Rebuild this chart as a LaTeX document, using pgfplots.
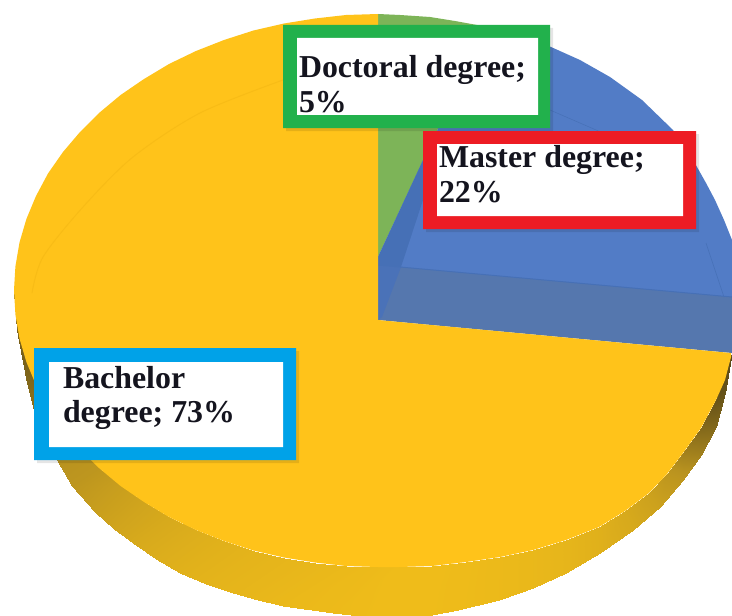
\documentclass[border=0pt]{standalone}
\usepackage{pgfplots}
\pgfplotsset{compat=1.18}
\usepackage{fontspec}
\setmainfont{Liberation Serif}
\definecolor{yel}{HTML}{FFC31A}
\definecolor{yelring}{HTML}{F8BC16}
\definecolor{grn}{HTML}{7DB458}
\definecolor{blu}{HTML}{527CC6}
\definecolor{bluF}{HTML}{5577AE}
\definecolor{bluS}{HTML}{4670B6}
\definecolor{bluL}{HTML}{4A72B8}
\definecolor{bxG}{HTML}{22B14C}
\definecolor{bxR}{HTML}{ED1C24}
\definecolor{bxB}{HTML}{00A2E8}
\definecolor{txt}{HTML}{14141E}
\newcommand{\lab}[1]{{\fontsize{32}{32}\selectfont\bfseries\color{txt}#1}}
\tikzset{lb/.style={anchor=base west, inner sep=0pt, outer sep=0pt}}
\begin{document}
\begin{tikzpicture}
\fill[white] (0,0) rectangle (732bp,616bp);
\begin{axis}[
  at={(0,0)}, anchor=south west,
  hide axis, scale only axis, width=732bp, height=616bp,
  xmin=0, xmax=732, ymin=0, ymax=616, y dir=reverse,
  colormap={side}{rgb255(0cm)=(77,63,23) rgb255(1cm)=(184,146,31) rgb255(2cm)=(239,188,26)},
  point meta min=0, point meta max=1,
]
% side wall of the yellow slice: a strip of quads, inner rim to outer rim
\addplot[patch, patch type=rectangle, shader=interp, point meta=explicit] table[x=x,y=y,meta=c] {
x y c
14 290 0.2
14 292 0.2
17 330 0.2
17 325 0.2
17 325 0.2
17 330 0.2
22 357 0.2
24 352 0.2
24 352 0.2
22 357 0.2
27 383 0.25
36 385 0.25
36 385 0.25
27 383 0.25
33 407 0.3
48 407.5 0.3
48 407.5 0.3
33 407 0.3
44 435 0.4
63 429 0.4
63 429 0.4
44 435 0.4
57 460 0.5
80 449 0.5
80 449 0.5
57 460 0.5
72 486 0.55
99 468 0.55
99 468 0.55
72 486 0.55
95 512 0.65
120.6 486 0.65
120.6 486 0.65
95 512 0.65
114 529 0.72
144 502 0.72
144 502 0.72
114 529 0.72
133 543 0.78
169 517 0.78
169 517 0.78
133 543 0.78
156 559 0.83
196 530 0.83
196 530 0.83
156 559 0.83
180 573 0.87
224 541 0.87
224 541 0.87
180 573 0.87
206 584 0.9
253.5 550.5 0.9
253.5 550.5 0.9
206 584 0.9
233 593 0.92
284 557.5 0.92
284 557.5 0.92
233 593 0.92
258 600 0.94
315 562.5 0.94
315 562.5 0.94
258 600 0.94
283 606 0.96
346 566 0.96
346 566 0.96
283 606 0.96
333 613 0.98
378 567 0.98
378 567 0.98
333 613 0.98
378 618 1
399 567 1
399 567 1
378 618 1
416 618 1
432 566 1
432 566 1
416 618 1
458 610 0.99
466 562 0.99
466 562 0.99
458 610 0.99
499 600 0.97
500 557 0.97
500 557 0.97
499 600 0.97
533 588 0.95
533 550 0.95
533 550 0.95
533 588 0.95
566 573 0.92
566 540 0.92
566 540 0.92
566 573 0.92
600 553 0.86
599 527 0.86
599 527 0.86
600 553 0.86
633 530 0.78
625 511 0.78
625 511 0.78
633 530 0.78
660 507 0.68
649 493 0.68
649 493 0.68
660 507 0.68
683 480 0.55
667 474 0.55
667 474 0.55
683 480 0.55
701 455 0.4
683 453 0.4
683 453 0.4
701 455 0.4
716 427 0.25
701 428 0.25
701 428 0.25
716 427 0.25
725 393 0.12
716 400 0.12
716 400 0.12
725 393 0.12
731 357 0.05
731 355 0.05
};
% green slice
\addplot[fill=grn, draw=none] coordinates {(378,14) (400,15) (430,17) (455,21) (477,25) (486,26) (378,257) (378,14)};
% blue slice, top
\addplot[fill=blu, draw=none] coordinates {(378,265) (378,257) (486,26) (520,36) (551,47) (580,60) (610,77) (642,100) (673,130) (686,148) (697,167) (706,183) (715,200) (724,220) (732,240) (732,297) (378,265)};
% blue slice, front wall
\addplot[fill=bluF, draw=none] coordinates {(378,265) (732,297) (732,353) (378,320) (378,265)};
\addplot[fill=bluS, draw=none] coordinates {(378,265) (378,257) (423,160) (423,200) (401,267) (378,265)};
\addplot[fill=bluL, draw=none] coordinates {(378,265) (401,267) (382,317) (378,320) (378,265)};
\addplot[bluS, line width=1pt] coordinates {(378,265) (732,297)};
\addplot[bluS, line width=0.5pt] coordinates {(550,110) (603,133) (640,160)};
\addplot[bluS, line width=0.5pt] coordinates {(706,243) (724,297)};
% yellow slice, top
\addplot[fill=yel, draw=none] coordinates {
(378,320) (731,353) (731,357) (725,380) (716,400) (701,428) (683,453) (667,474) (649,493) (625,511) (599,527) (566,540) (533,550) (500,557) (466,562) (432,566) (399,567)
(378,567) (346,566) (315,562.5) (284,557.5) (253.5,550.5) (224,541) (196,530) (169,517) (144,502) (120.6,486) (99,468) (80,449) (63,429) (48,407.5) (36,385) (26.4,362) (19.5,338.5) (15.4,314.5) (14,290)
(15.4,266.5) (19.5,242.5) (26.4,219) (36,196) (48,173.5) (63,152) (80,132) (99,113) (120.6,95) (144,79) (169,64) (196,51) (224,40) (253.5,30.5) (284,23.5) (315,18.5) (346,15) (378,14) (378,320)};
\addplot[yelring, line width=1pt, smooth] coordinates {(32,293) (43,257) (83,207) (133,157) (200,113) (283,80)};
% soft shadows of the boxes
\addplot[fill=black, fill opacity=0.1, draw=none] coordinates {(286,28) (553,28) (553,131) (286,131) (286,28)};
\addplot[fill=black, fill opacity=0.1, draw=none] coordinates {(426,134) (699,134) (699,232) (426,232) (426,134)};
\addplot[fill=black, fill opacity=0.1, draw=none] coordinates {(37,351) (299,351) (299,463) (37,463) (37,351)};
% label boxes
\addplot[fill=bxG, draw=none] coordinates {(283,25) (550,25) (550,128) (283,128) (283,25)};
\addplot[fill=white, draw=none] coordinates {(297,38) (538,38) (538,115) (297,115) (297,38)};
\addplot[fill=bxR, draw=none] coordinates {(423,131) (696,131) (696,229) (423,229) (423,131)};
\addplot[fill=white, draw=none] coordinates {(437,144) (683,144) (683,216) (437,216) (437,144)};
\addplot[fill=bxB, draw=none] coordinates {(34,348) (296,348) (296,460) (34,460) (34,348)};
\addplot[fill=white, draw=none] coordinates {(49,362) (283,362) (283,447) (49,447) (49,362)};
\node[lb] at (axis cs:299,78) {\lab{Doctoral degree;}};
\node[lb] at (axis cs:299,112) {\lab{5\%}};
\node[lb] at (axis cs:439,167) {\lab{Master degree;}};
\node[lb] at (axis cs:439,202) {\lab{22\%}};
\node[lb] at (axis cs:63,388) {\lab{Bachelor}};
\node[lb] at (axis cs:63,422) {\lab{degree; 73\%}};
\end{axis}
\end{tikzpicture}
\end{document}
